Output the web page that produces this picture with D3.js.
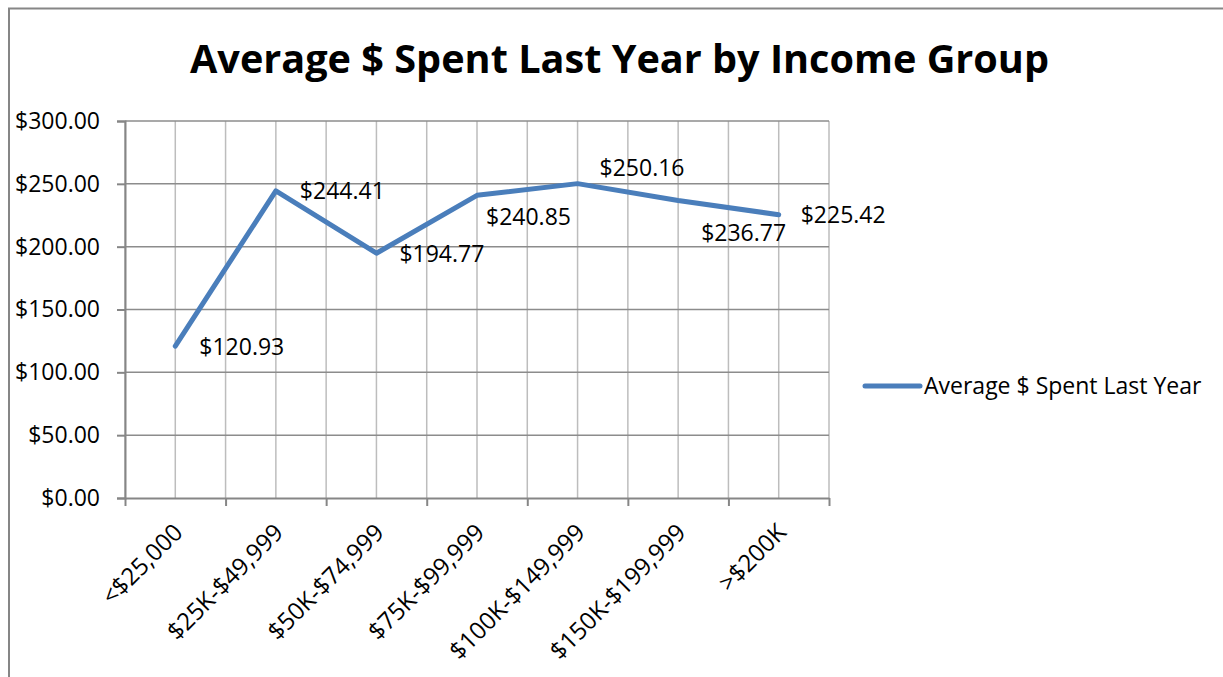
<!DOCTYPE html>
<html>
<head>
<meta charset="utf-8">
<script src="https://cdn.jsdelivr.net/npm/d3@7"></script>
<style>
body { margin: 0; background: #fff; }
text { font-family: "Open Sans", sans-serif; fill: #000; }
</style>
</head>
<body>
<svg></svg>
<script>
var categories = ["<$25,000", "$25K-$49,999", "$50K-$74,999", "$75K-$99,999", "$100K-$149,999", "$150K-$199,999", ">$200K"]
var spent = [120.93, 244.41, 194.77, 240.85, 250.16, 236.77, 225.42]
var yTicks = [0, 50, 100, 150, 200, 250, 300]
var seriesName = "Average $ Spent Last Year"
var title = "Average $ Spent Last Year by Income Group"

// where each data label sits, relative to its point
var labelDx = [24, 24, 23, 9, 22, 23, 22]
var labelDy = [1, 0, 1, 22, -16, 32, 0]

var screen = {width: 1223, height: 677}
var plot = {left: 125, right: 829, top: 121, bottom: 498}
var blue = "#4a7ebb"

var svg = d3.select("svg")
    .attr("width", screen.width)
    .attr("height", screen.height)

// chart border
svg.append("rect")
    .attr("x", 9)
    .attr("y", 8.5)
    .attr("width", 1240)
    .attr("height", 700)
    .attr("fill", "none")
    .attr("stroke", "#868686")
    .attr("stroke-width", 2)

var xscale = d3.scaleBand()
    .domain(categories)
    .range([plot.left, plot.right])

// index scale, used for gridlines and ticks between categories
var xindex = d3.scaleLinear()
    .domain([0, categories.length])
    .range([plot.left, plot.right])

var yscale = d3.scaleLinear()
    .domain([0, 300])
    .range([plot.bottom, plot.top])

var cx = function(d, i)
{
    return xscale(categories[i]) + xscale.bandwidth() / 2
}

// vertical gridlines at every half category
var halfSteps = d3.range(0, categories.length + 0.5, 0.5)
svg.append("g")
    .selectAll("line")
    .data(halfSteps)
    .enter()
    .append("line")
    .attr("x1", function(d) {return xindex(d)})
    .attr("x2", function(d) {return xindex(d)})
    .attr("y1", plot.top)
    .attr("y2", plot.bottom)
    .attr("stroke", "#bdbdbd")
    .attr("stroke-width", 1.5)

// horizontal gridlines
svg.append("g")
    .selectAll("line")
    .data(yTicks.slice(1))
    .enter()
    .append("line")
    .attr("x1", plot.left)
    .attr("x2", plot.right)
    .attr("y1", function(d) {return yscale(d)})
    .attr("y2", function(d) {return yscale(d)})
    .attr("stroke", "#8c8c8c")
    .attr("stroke-width", 1.5)

// y axis
var yAxis = svg.append("g")
    .attr("transform", "translate(" + plot.left + ",0)")
    .call(d3.axisLeft(yscale)
        .tickValues(yTicks)
        .tickSize(8)
        .tickPadding(17)
        .tickFormat(d3.format("$,.2f")))
yAxis.select(".domain").attr("stroke", "#868686").attr("stroke-width", 2)
yAxis.selectAll(".tick line").attr("stroke", "#868686").attr("stroke-width", 2)
yAxis.selectAll("text")
    .attr("fill", "#000")
    .style("font-family", "'Open Sans', sans-serif")
    .style("font-size", "23px")

// x axis: ticks between categories
var xAxis = svg.append("g")
    .attr("transform", "translate(0," + plot.bottom + ")")
    .call(d3.axisBottom(xindex)
        .tickValues(d3.range(0, categories.length + 1))
        .tickSize(8)
        .tickSizeOuter(0)
        .tickFormat(""))
xAxis.select(".domain").attr("stroke", "#868686").attr("stroke-width", 2)
xAxis.selectAll(".tick line").attr("stroke", "#868686").attr("stroke-width", 2)

// category labels
svg.append("g")
    .selectAll("text")
    .data(categories)
    .enter()
    .append("text")
    .attr("transform", function(d, i)
          {return "translate(" + (cx(d, i) + 3) + "," + (plot.bottom + 30) + ") rotate(-45)"})
    .attr("text-anchor", "end")
    .attr("dy", "0.35em")
    .style("font-size", "24px")
    .text(function(d) {return d})

// the line
var line = d3.line()
    .x(function(d, i) {return cx(d, i)})
    .y(function(d) {return yscale(d)})

svg.append("path")
    .datum(spent)
    .attr("d", line)
    .attr("fill", "none")
    .attr("stroke", blue)
    .attr("stroke-width", 5)
    .attr("stroke-linejoin", "round")
    .attr("stroke-linecap", "round")

// data labels
svg.append("g")
    .selectAll("text")
    .data(spent)
    .enter()
    .append("text")
    .attr("x", function(d, i) {return cx(d, i) + labelDx[i]})
    .attr("y", function(d, i) {return yscale(d) + labelDy[i]})
    .attr("dy", "0.35em")
    .style("font-size", "23px")
    .text(function(d) {return d3.format("$,.2f")(d)})

// title
svg.append("text")
    .attr("x", 619.5)
    .attr("y", 73)
    .attr("text-anchor", "middle")
    .attr("textLength", 859)
    .attr("lengthAdjust", "spacingAndGlyphs")
    .style("font-size", "39px")
    .style("font-weight", "bold")
    .text(title)

// legend
var legend = svg.append("g")
    .attr("transform", "translate(865,386)")
legend.append("line")
    .attr("x1", 0)
    .attr("x2", 55)
    .attr("stroke", blue)
    .attr("stroke-width", 5)
    .attr("stroke-linecap", "round")
legend.append("text")
    .attr("x", 59)
    .attr("dy", "0.35em")
    .style("font-size", "23px")
    .text(seriesName)
</script>
</body>
</html>
